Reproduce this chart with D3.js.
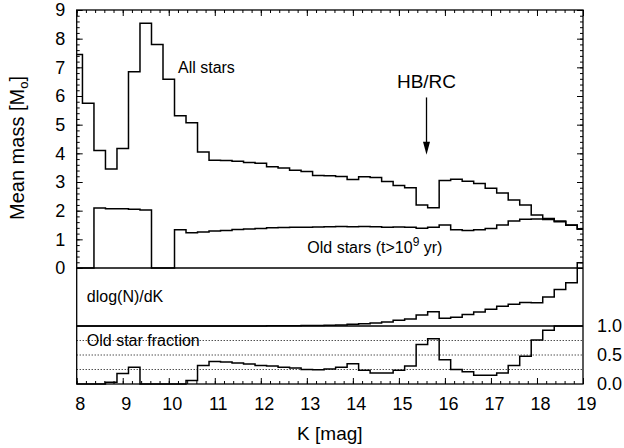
<!DOCTYPE html>
<html>
<head>
<meta charset="utf-8">
<script src="https://cdn.jsdelivr.net/npm/d3@7"></script>
<style>
  body { margin: 0; background: #fff; }
  svg { display: block; }
  text { font-family: "Liberation Sans", Arial, Helvetica, sans-serif; fill: #000; }
</style>
</head>
<body>
<svg id="chart" width="624" height="448"></svg>
<script>
// Bin centres in K magnitude (0.25 mag bins; first and last are half bins at the plot edges)
const kBins = [8.0, 8.25, 8.5, 8.75, 9.0, 9.25, 9.5, 9.75, 10.0, 10.25, 10.5, 10.75,
  11.0, 11.25, 11.5, 11.75, 12.0, 12.25, 12.5, 12.75, 13.0, 13.25, 13.5, 13.75,
  14.0, 14.25, 14.5, 14.75, 15.0, 15.25, 15.5, 15.75, 16.0, 16.25, 16.5, 16.75,
  17.0, 17.25, 17.5, 17.75, 18.0, 18.25, 18.5, 18.75, 19.0];

// Mean mass of all stars per bin [M_sun]
const allStars = [7.45, 5.75, 4.1, 3.45, 4.17, 6.85, 8.54, 7.8, 6.58, 5.31, 5.07, 4.05,
  3.76, 3.75, 3.72, 3.68, 3.65, 3.53, 3.49, 3.41, 3.37, 3.23, 3.22, 3.19,
  3.09, 3.18, 3.16, 3.02, 2.88, 2.8, 2.2, 2.1, 3.05, 3.1, 3.03, 2.95,
  2.78, 2.62, 2.37, 2.2, 1.85, 1.73, 1.64, 1.5, 1.37];

// Mean mass of old stars (t > 1e9 yr) per bin [M_sun]
const oldStars = [0, 0, 2.09, 2.07, 2.07, 2.05, 2.02, 0, 0, 1.33, 1.23, 1.26,
  1.29, 1.31, 1.34, 1.36, 1.38, 1.4, 1.41, 1.42, 1.42, 1.43, 1.44, 1.45,
  1.44, 1.45, 1.44, 1.42, 1.43, 1.42, 1.39, 1.42, 1.5, 1.33, 1.31, 1.33,
  1.38, 1.5, 1.64, 1.7, 1.71, 1.69, 1.61, 1.49, 1.35];

// Logarithmic slope of the number counts (relative units of the middle panel)
const dlogN = [0, 0, 0, 0, 0, 0, 0, 0, 0, 0, 0, 0,
  0, 0, 0, 0, 0.002, 0.003, 0.004, 0.006, 0.008, 0.01, 0.014, 0.019,
  0.03, 0.04, 0.052, 0.07, 0.098, 0.12, 0.19, 0.244, 0.135, 0.15, 0.2, 0.24,
  0.29, 0.34, 0.375, 0.405, 0.4, 0.5, 0.63, 0.745, 1.09];

// Number fraction of old stars per bin
const oldFraction = [0, 0, 0, 0.03, 0.18, 0.29, 0, 0, 0, 0, 0.06, 0.32,
  0.39, 0.38, 0.36, 0.345, 0.32, 0.31, 0.29, 0.276, 0.25, 0.247, 0.26, 0.29,
  0.35, 0.236, 0.19, 0.19, 0.236, 0.31, 0.68, 0.78, 0.42, 0.25, 0.21, 0.15,
  0.15, 0.19, 0.32, 0.48, 0.76, 0.925, 1.0, 1.0, 1.0];

const kTicks = [8, 9, 10, 11, 12, 13, 14, 15, 16, 17, 18, 19];
const massTicks = [0, 1, 2, 3, 4, 5, 6, 7, 8, 9];
const fracTicks = [0.0, 0.5, 1.0];
const fracGrid = [0.25, 0.5, 0.75];

const svg = d3.select("#chart");
const plotLeft = 76.7, plotRight = 583;
const plotTop = 10, zeroLine = 268, midLine = 326, plotBottom = 384;

const x = d3.scaleLinear([8, 19], [plotLeft, plotRight]);
const yMass = d3.scaleLinear([0, 9], [zeroLine, plotTop]);
const yDlog = d3.scaleLinear([0, 1], [midLine, zeroLine]);
const yFrac = d3.scaleLinear([0, 1], [plotBottom, midLine]);

// Histogram outline as a step line over bin edges
function stepPath(values, y) {
  const pts = kBins.map((k, i) => [Math.max(8, k - 0.125), values[i]]);
  pts.push([19, values[values.length - 1]]);
  return d3.line().x(d => x(d[0])).y(d => y(d[1])).curve(d3.curveStepAfter)(pts);
}

// Dotted reference levels of the fraction panel
svg.append("g").selectAll("line").data(fracGrid).join("line")
  .attr("x1", plotLeft).attr("x2", plotRight)
  .attr("y1", d => yFrac(d)).attr("y2", d => yFrac(d))
  .attr("stroke", "#000").attr("stroke-width", 1)
  .attr("stroke-dasharray", "1,2");

// Axes with inward-pointing ticks
const minorK = d3.range(80, 191, 2).map(v => v / 10);
const minorMass = d3.range(0, 91, 2).map(v => v / 10);

function addAxis(axis, tx, ty) {
  const g = svg.append("g").attr("transform", `translate(${tx},${ty})`).call(axis);
  g.select(".domain").remove();
  g.selectAll(".tick line").attr("stroke", "#000").attr("stroke-width", 1);
  return g;
}

addAxis(d3.axisBottom(x).tickValues(minorK).tickSize(-3).tickFormat(""), 0, plotBottom);
addAxis(d3.axisTop(x).tickValues(minorK).tickSize(-3).tickFormat(""), 0, plotTop);
addAxis(d3.axisTop(x).tickValues(kTicks).tickSize(-6).tickFormat(""), 0, plotTop);
const kAxis = addAxis(d3.axisBottom(x).tickValues(kTicks).tickSize(-6).tickPadding(13.5)
  .tickFormat(d3.format("d")), 0, plotBottom);
kAxis.selectAll("text").attr("font-size", 18).attr("dx", 3);

addAxis(d3.axisLeft(yMass).tickValues(minorMass).tickSize(-3).tickFormat(""), plotLeft, 0);
addAxis(d3.axisRight(yMass).tickValues(minorMass).tickSize(-3).tickFormat(""), plotRight, 0);
addAxis(d3.axisRight(yMass).tickValues(massTicks).tickSize(-6).tickFormat(""), plotRight, 0);
const mAxis = addAxis(d3.axisLeft(yMass).tickValues(massTicks).tickSize(-6).tickPadding(11.5)
  .tickFormat(d3.format("d")), plotLeft, 0);
mAxis.selectAll("text").attr("font-size", 18);

const fAxis = addAxis(d3.axisRight(yFrac).tickValues(fracTicks).tickSize(0).tickPadding(14)
  .tickFormat(d3.format(".1f")), plotRight, 0);
fAxis.selectAll("text").attr("font-size", 18);

// Frame and panel separators
svg.append("rect").attr("x", plotLeft).attr("y", plotTop)
  .attr("width", plotRight - plotLeft).attr("height", plotBottom - plotTop)
  .attr("fill", "none").attr("stroke", "#000").attr("stroke-width", 1.3);
[zeroLine, midLine].forEach(yv => {
  svg.append("line").attr("x1", plotLeft).attr("x2", plotRight).attr("y1", yv).attr("y2", yv)
    .attr("stroke", "#000").attr("stroke-width", 1.3);
});

// Histograms
const series = [
  [allStars, yMass],
  [oldStars, yMass],
  [dlogN, yDlog],
  [oldFraction, yFrac]
];
svg.append("g").selectAll("path").data(series).join("path")
  .attr("d", d => stepPath(d[0], d[1]))
  .attr("fill", "none").attr("stroke", "#000").attr("stroke-width", 1.5)
  .attr("stroke-linejoin", "miter");

// Annotations
svg.append("text").attr("x", x(10.2)).attr("y", yMass(6.8))
  .attr("font-size", 16).text("All stars");

const oldLabel = svg.append("text").attr("x", x(13.01)).attr("y", yMass(0.51))
  .attr("font-size", 16);
oldLabel.append("tspan").text("Old stars (t>10");
oldLabel.append("tspan").attr("font-size", 12).attr("dy", -7).text("9");
oldLabel.append("tspan").attr("dy", 7).text(" yr)");

svg.append("text").attr("x", x(8.22)).attr("y", 302)
  .attr("font-size", 16).text("dlog(N)/dK");
svg.append("text").attr("x", x(8.22)).attr("y", 346)
  .attr("font-size", 16).text("Old star fraction");

// Horizontal branch / red clump marker
const hbK = 15.6;
svg.append("text").attr("x", x(hbK)).attr("y", yMass(6.28))
  .attr("text-anchor", "middle").attr("font-size", 19).text("HB/RC");
svg.append("line").attr("x1", x(hbK)).attr("x2", x(hbK))
  .attr("y1", yMass(5.95)).attr("y2", yMass(4.3))
  .attr("stroke", "#000").attr("stroke-width", 1.3);
svg.append("path")
  .attr("d", `M${x(hbK) - 3.5},${yMass(4.4)} L${x(hbK) + 3.5},${yMass(4.4)} L${x(hbK)},${yMass(3.95)} Z`)
  .attr("fill", "#000");

// Axis titles
svg.append("text").attr("x", x(13.5)).attr("y", 440)
  .attr("text-anchor", "middle").attr("font-size", 19).text("K [mag]");
const yTitle = svg.append("text")
  .attr("transform", "translate(24,148) rotate(-90)")
  .attr("text-anchor", "middle").attr("font-size", 20);
yTitle.append("tspan").text("Mean mass [M");
yTitle.append("tspan").attr("font-size", 13).attr("dy", 4).text("o");
yTitle.append("tspan").attr("dy", -4).text("]");
</script>
</body>
</html>
